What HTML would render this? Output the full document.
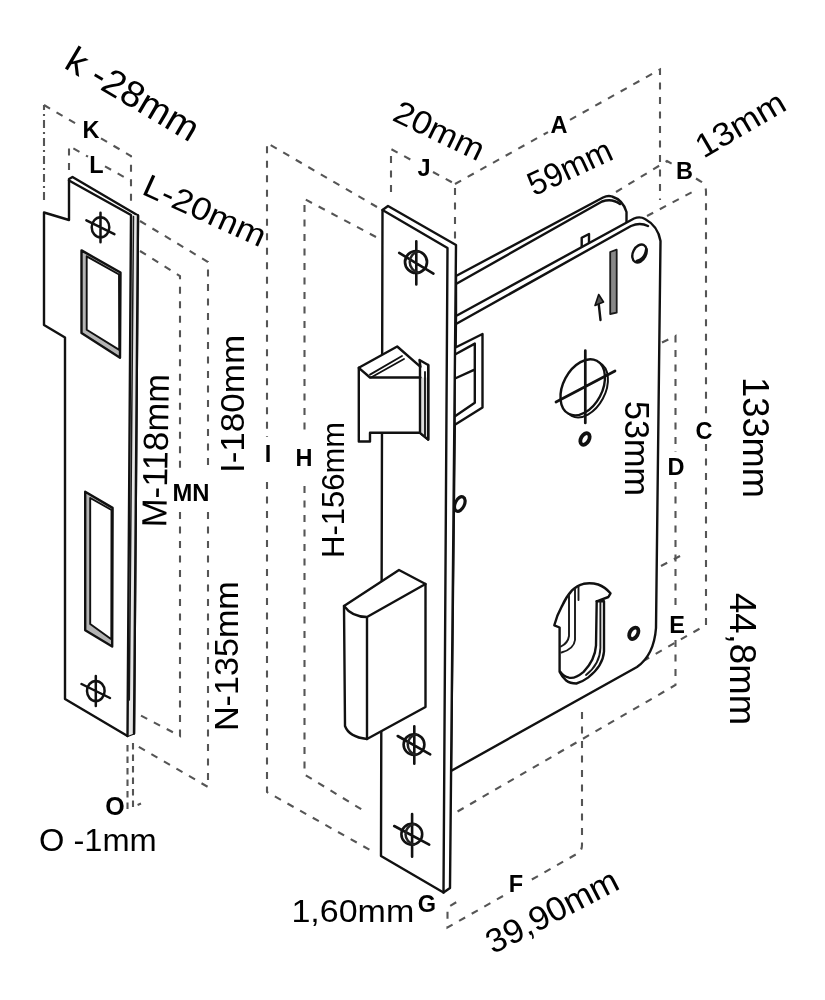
<!DOCTYPE html>
<html lang="pt">
<head>
<meta charset="utf-8">
<title>Fechadura - dimensões</title>
<style>
html,body{margin:0;padding:0;background:#fff;}
body{width:825px;height:1000px;overflow:hidden;position:relative;}
svg{position:absolute;left:0;top:0;display:block;filter:blur(0.45px);}
text{font-family:"Liberation Sans",sans-serif;fill:#000;}
.t{font-size:34px;}
.b{font-weight:bold;fill:#505050;font-size:23.5px;}
.s{fill:none;stroke:#111;stroke-width:2.4;stroke-linejoin:round;stroke-linecap:round;}
.s2{fill:none;stroke:#1a1a1a;stroke-width:1.9;stroke-linejoin:round;stroke-linecap:round;}
.f{fill:#fff;stroke:#111;stroke-width:2.4;stroke-linejoin:round;stroke-linecap:round;}
.d{fill:none;stroke:#555;stroke-width:2.1;stroke-dasharray:7 7.5;}
.g{fill:#888;stroke:#1a1a1a;stroke-width:1.8;stroke-linejoin:round;}
</style>
</head>
<body>
<svg width="825" height="1000" viewBox="0 0 825 1000">
<rect width="825" height="1000" fill="#fff"/>

<!-- ================= DASHED DIMENSION LINES ================= -->
<g id="dashes" class="d">
  <!-- K / L -->
  <path d="M44 200V105" stroke-dasharray="8 4 2 4"/>
  <path d="M44 105L81 126.7M101 138.4L131 156V207"/>
  <path d="M69 170V146L88 156.7M105 166.3L131 181"/>
  <!-- M / N -->
  <path d="M140 251L180 276V472M180 512V736L136 713"/>
  <path d="M140 221L208 262V472M208 512V787L134 744"/>
  <!-- O -->
  <path d="M127.5 745V810M133 743V807L141 803.500" stroke-dasharray="6.500 5"/>
  <!-- I / H -->
  <path d="M377 207L267 143V437M267 482V792L370 850"/>
  <path d="M376 237L304.5 199V434M304.500 486V774.500L366.400 812.400"/>
  <!-- J -->
  <path d="M391 192V149L415 162.1M433 172.0L455 184V245"/>
  <!-- A -->
  <path d="M455 184L548 132.1M570 119.8L660 69.5V200"/>
  <!-- B -->
  <path d="M616 192L667 161L674 165M696 178.500L700 181Q706 184 706 192V420M706 444V625L645 660"/>
  <path d="M647 216L696 190"/>
  <!-- D / E -->
  <path d="M662 342.5L675.5 336V452M675.500 482V610M675.500 640V685L455 813"/>
  <path d="M661 566L682 555"/>
  <!-- F / G -->
  <path d="M582 712V845Q582 851 577 853.8L531 880.0M503 896.0L447.5 927.5V907.5L460 900"/>
</g>

<!-- ================= STRIKE PLATE ================= -->
<g id="strike">
  <path class="f" d="M69 179L72.5 177L138 215.5L134 733.5L127.5 736L65 699V337.5L44 325V212.5L69 220Z"/>
  <path d="M131 215L138 215.500L134 733.500L127.500 736Z" fill="#e6e6e6"/>
  <path class="s" d="M69 180.5L131 215L127.5 736"/>
  <path class="s" d="M138 215.500L134 733.500"/>
  <path class="s2" d="M133.500 216.500L129.300 700" style="stroke-width:1.500"/>
  <!-- hole 1 -->
  <path class="f" d="M81.500 250.400L120.500 272.500L120 357.700L81.500 333Z" style="fill:#b4b4b4"/>
  <path class="f" d="M86.700 256.300L119 274.500L119.200 349.900L86.700 329.700Z" style="stroke-width:1.900"/>
  <!-- hole 2 -->
  <path class="f" d="M85.200 491.700L112.600 507.900L112.200 646.500L85.200 630.300Z" style="fill:#b4b4b4"/>
  <path class="f" d="M90.200 498L111.500 510L111.300 639.300L90.200 624Z" style="stroke-width:1.900"/>
  <!-- screws -->
  <ellipse class="s" cx="100.500" cy="227.300" rx="8.800" ry="10" style="stroke-width:2.500"/>
  <path class="s" d="M100.500 212.700V242.200M86.400 220.400L114.400 234.200" style="stroke-width:2.500"/>
  <ellipse class="s" cx="95.800" cy="691" rx="8.800" ry="10" style="stroke-width:2.500"/>
  <path class="s" d="M95.800 676V706M81.500 684L110 698" style="stroke-width:2.500"/>
</g>

<!-- ================= LOCK BODY ================= -->
<g id="body">
  <!-- back plate -->
  <path class="f" d="M456 276L603 197.500Q608 195 612 196.500Q623 200 626.500 212V226L456 322Z"/>
  <path class="s" d="M456 284L602 201.500Q612 198 620 204"/>
  <!-- tab -->
  <path class="f" d="M581.700 247V237.700L589 234V243"/>
  <!-- front plate -->
  <path class="f" d="M456 316L634 218.500Q640 216 645 219Q658 226 660.500 241L656 628Q654 655 637 667L451 771Z"/>
  <path class="s" d="M456 324L631 226Q640 222 648 226"/>
  <!-- small component behind faceplate -->
  <path class="f" d="M454.500 348L482.500 334V407.500L454.500 425Z"/>
  <path class="s" d="M455 354.500L474.800 343.600V402.700L455 416.300M455 378.500L474 369.800"/>
  <!-- slit + arrow -->
  <path class="g" d="M610.200 252L616.700 249.700V312.700L610.200 314Z"/>
  <path class="s" d="M600.500 320L598.200 299"/>
  <path d="M598.700 294.500L595 305.500L603.500 302Z" fill="#555" stroke="#111" style="stroke-width:1.600" stroke-linejoin="round"/>
  <!-- holes -->
  <g transform="rotate(27 639.500 253.500)">
    <ellipse class="s" cx="639.500" cy="253.500" rx="6.500" ry="9.500"/>
    <path class="s" d="M643.500 246.500Q647 256 640.500 261.500" style="stroke-width:2.600"/>
  </g>
  <ellipse class="s" cx="585.700" cy="389.300" rx="19.500" ry="30" transform="rotate(28 585.700 389.300)" style="stroke-width:2"/>
  <ellipse class="f" cx="582.700" cy="387.300" rx="19.500" ry="30" transform="rotate(28 582.700 387.300)" style="stroke-width:2.400"/>
  <path class="s" d="M585.300 350.500V423M556 402L615 371" style="stroke-width:2.700"/>
  <ellipse cx="585" cy="439" rx="4" ry="6.300" transform="rotate(30 585 439)" fill="#fff" stroke="#111" style="stroke-width:3.800"/>
  <ellipse cx="633.800" cy="633.300" rx="4" ry="6.200" transform="rotate(30 633.800 633.300)" fill="#fff" stroke="#111" style="stroke-width:3.800"/>
  <ellipse class="f" cx="459.800" cy="504" rx="4.600" ry="7.800" transform="rotate(25 459.800 504)" style="stroke-width:3.200"/>
  <!-- euro cylinder -->
  <path class="f" d="M554.300 625.300Q557 615 561.800 606.400Q566 597 572 590.400Q577 585.500 583.600 583.800Q591 582.500 598.200 584.500Q605 587 610.500 593.300L608.400 597L596.700 601.300H604V651.500Q603 666 588 677.600Q582 682 576.400 683.500Q570 683.500 566.200 680.500Q562 677 559.600 671.800V627.500Z"/>
  <path class="s" d="M596.700 601.300L596 645.600Q595 660 583.600 671.800Q575 679 569 677.600Q563 676 560.400 671.800"/>
  <path class="s2" d="M600.400 602V648Q600 664 586 675"/>
  <path class="s2" d="M569 594.500V636Q568 643 561 646.500M575 589V640Q574 649 561.500 652.500M578.500 587V600"/>
</g>

<!-- ================= FACEPLATE ================= -->
<g id="face">
  <path class="f" d="M382.500 210L388 206L456 245L450 888L443.500 892.500L381 856Z"/>
  <path class="s" d="M382.500 210L447.500 248L443.500 892.500"/>
  <!-- screws -->
  <g>
    <circle class="s" cx="416" cy="262" r="11" style="stroke-width:2.700"/>
    <path class="s" d="M416.3 241.3V284.5M399.2 252.9L433.4 273.6" style="stroke-width:2.600"/>
    <path class="s" d="M418.200 251.300A11 11 0 0 0 418.200 272.700" style="stroke-width:2.500;stroke:#222"/>
  </g>
  <g>
    <circle class="s" cx="414" cy="744.6" r="10.400" style="stroke-width:2.600"/>
    <path class="s" d="M414.3 726.2V763.7M397.7 736L430.2 754.3" style="stroke-width:2.600"/>
    <path class="s" d="M416.100 734.400A10.400 10.400 0 0 0 416.100 754.800" style="stroke-width:2.500;stroke:#222"/>
  </g>
  <g>
    <circle class="s" cx="411.8" cy="834.2" r="10.400" style="stroke-width:2.600"/>
    <path class="s" d="M412.1 814V856.7M394.2 826L429.2 844.7" style="stroke-width:2.600"/>
    <path class="s" d="M413.900 824A10.400 10.400 0 0 0 413.900 844.400" style="stroke-width:2.500;stroke:#222"/>
  </g>
</g>

<!-- ================= LATCH ================= -->
<g id="latch">
  <path class="f" d="M358.800 367.800L397.200 346.500L420.500 366.800L419.500 360L428.200 365V439.600L420 432.800H370V441.500H358.800Z"/>
  <path d="M420 377.500H428.200V439.600L420 432.800Z" fill="#ddd" stroke="none"/>
  <path class="s" d="M358.800 367.800L370 377.500H420.500M420 366.800V432.800L428.200 439.600V365"/>
  <path class="s2" d="M425 372V436"/>
  <path class="s" d="M370 374.600L402 356M371 377.500L404 359" style="stroke-width:1.800"/>
</g>

<!-- ================= DEADBOLT ================= -->
<g id="bolt">
  <path class="f" d="M344 606L399 570L425.500 584V707L367 739Q349 737 345 726Z"/>
  <path class="s" d="M344 606Q352 617 367 617L425.500 584M367 617V739"/>
</g>

<!-- ================= LABELS (small bold) ================= -->
<g class="b" text-anchor="middle">
  <text x="91" y="138">K</text>
  <text x="96.500" y="173">L</text>
  <text x="191" y="500.500" textLength="37" lengthAdjust="spacingAndGlyphs">MN</text>
  <text x="115" y="815" style="font-size:25px">O</text>
  <text x="268" y="461.500">I</text>
  <text x="304" y="466">H</text>
  <text x="424" y="175.500">J</text>
  <text x="559" y="132.500">A</text>
  <text x="684.500" y="178.500">B</text>
  <text x="704" y="438.500">C</text>
  <text x="676" y="474.500">D</text>
  <text x="677" y="632.500">E</text>
  <text x="516" y="891.500">F</text>
  <text x="427" y="912">G</text>
</g>

<!-- ================= DIMENSION TEXT ================= -->
<g class="t">
  <text transform="translate(62.7 67.3) rotate(30.6)" style="font-size:37px" textLength="148.0" lengthAdjust="spacingAndGlyphs">k -28mm</text>
  <text transform="translate(140.5 193.4) rotate(24.3)" style="font-size:32px" textLength="131.3" lengthAdjust="spacingAndGlyphs">L-20mm</text>
  <text transform="translate(391.0 119.8) rotate(25.7)" style="font-size:32.5px" textLength="96.5" lengthAdjust="spacingAndGlyphs">20mm</text>
  <text transform="translate(534.1 196.5) rotate(-25.1)" style="font-size:33.5px" textLength="89.5" lengthAdjust="spacingAndGlyphs">59mm</text>
  <text transform="translate(703.4 158.7) rotate(-30.3)" style="font-size:33px" textLength="98.4" lengthAdjust="spacingAndGlyphs">13mm</text>
  <text transform="translate(166.3 527.5) rotate(-89)" style="font-size:35px" textLength="153.4" lengthAdjust="spacingAndGlyphs">M-118mm</text>
  <text transform="translate(244.0 473.1) rotate(-90)" style="font-size:33.5px" textLength="138.3" lengthAdjust="spacingAndGlyphs">I-180mm</text>
  <text transform="translate(238.0 731.1) rotate(-90)" style="font-size:32.5px" textLength="149.9" lengthAdjust="spacingAndGlyphs">N-135mm</text>
  <text transform="translate(343.6 558.0) rotate(-90)" style="font-size:31.5px" textLength="136.2" lengthAdjust="spacingAndGlyphs">H-156mm</text>
  <text transform="translate(625.0 401.0) rotate(90)" style="font-size:34.4px" textLength="94.9" lengthAdjust="spacingAndGlyphs">53mm</text>
  <text transform="translate(742.5 377.1) rotate(90)" style="font-size:37.5px" textLength="120.9" lengthAdjust="spacingAndGlyphs">133mm</text>
  <text transform="translate(730.3 593.0) rotate(90)" style="font-size:36px" textLength="132.1" lengthAdjust="spacingAndGlyphs">44,8mm</text>
  <text transform="translate(39.0 851.0) rotate(0)" style="font-size:31.5px" textLength="117.8" lengthAdjust="spacingAndGlyphs">O -1mm</text>
  <text transform="translate(291.4 921.7) rotate(0)" style="font-size:31.1px" textLength="122.9" lengthAdjust="spacingAndGlyphs">1,60mm</text>
  <text transform="translate(493.1 954.5) rotate(-27.3)" style="font-size:33.8px" textLength="144.4" lengthAdjust="spacingAndGlyphs">39,90mm</text>
</g>
</svg>
</body>
</html>
